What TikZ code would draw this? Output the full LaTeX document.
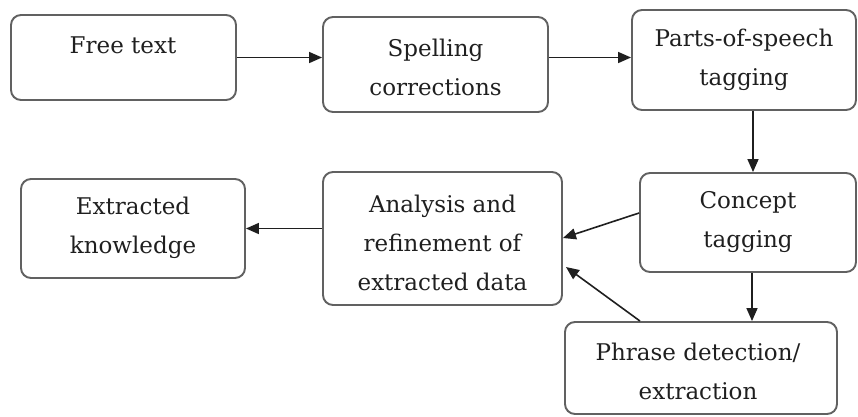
\documentclass[tikz,border=0pt]{standalone}
\usepackage{fontspec}
\setmainfont{DejaVu Serif}
\usetikzlibrary{arrows.meta}
\begin{document}
\begin{tikzpicture}[x=1pt,y=-1pt,
  box/.style={draw=black!62,line width=1.9pt,rounded corners=10pt,inner sep=0pt},
  txt/.style={align=center,font=\fontsize{23}{39}\selectfont,text=black!88,inner sep=0pt},
  arr/.style={draw=black!88,line width=1.6pt,-{Triangle[length=13pt,width=11pt]}}]
\useasboundingbox (0,0) rectangle (858,416);
% boxes: centre, width, height
\node[box,minimum width=225pt,minimum height=85pt] (ft) at (123.5,57.5) {};
\node[box,minimum width=225pt,minimum height=95pt] (sp) at (435.5,64.5) {};
\node[box,minimum width=224pt,minimum height=100pt] (pos) at (744,60) {};
\node[box,minimum width=216pt,minimum height=99pt] (ct) at (748,222.5) {};
\node[box,minimum width=239pt,minimum height=133pt] (an) at (442.5,238.5) {};
\node[box,minimum width=224pt,minimum height=99pt] (ek) at (133,228.5) {};
\node[box,minimum width=272pt,minimum height=92pt] (ph) at (701,368) {};
% labels
\node[txt] (tft) at (123,45) {Free text};
\node[txt] (tsp) at (435.5,67) {Spelling\\corrections};
\node[txt] (tpos) at (744,60) {Parts-of-speech\\tagging};
\node[txt] (tct) at (748,222.5) {Concept\\tagging};
\node[txt] (tan) at (442.5,242.5) {Analysis and\\refinement of\\extracted data};
\node[txt] (tek) at (133,228) {Extracted\\knowledge};
\node[txt] (tph) at (698,371) {Phrase detection/\\extraction};
% connectors
\draw[arr] (ft.east) -- (sp.west |- ft.east);
\draw[arr] (sp.east |- ft.east) -- (pos.west |- ft.east);
\coordinate (d1) at (753,0);
\draw[arr] (pos.south -| d1) -- (ct.north -| d1);
\coordinate (d2) at (752,0);
\draw[arr] (ct.south -| d2) -- (ph.north -| d2);
\coordinate (c1) at (0,213);
\coordinate (a1) at (0,238);
\draw[arr] (ct.west |- c1) -- (an.east |- a1);
\coordinate (p1) at (640,0);
\coordinate (a2) at (0,267);
\draw[arr] (ph.north -| p1) -- ([xshift=3pt]an.east |- a2);
\draw[arr] (an.west |- ek.east) -- (ek.east);
\end{tikzpicture}
\end{document}
